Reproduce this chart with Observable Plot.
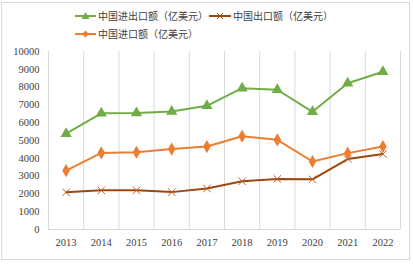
<!DOCTYPE html>
<html><head><meta charset="utf-8">
<script src="https://cdn.jsdelivr.net/npm/d3@7"></script>
<script src="https://cdn.jsdelivr.net/npm/@observablehq/plot@0.6"></script>
<style>
body{margin:0;background:#fff;}
#wrap{position:relative;width:413px;height:265px;overflow:hidden;}
#frame{position:absolute;left:1px;top:2px;width:409px;height:258px;border:1px solid #d9d9d9;box-sizing:border-box;pointer-events:none;}
#chart svg, #chart svg text{font-family:"Liberation Serif","DejaVu Serif",serif !important;font-size:10.5px;}
.leg{position:absolute;display:flex;align-items:center;font-family:"Noto Sans CJK SC",sans-serif;font-size:10px;color:#404040;white-space:nowrap;}
.leg svg{margin-right:2px;}
</style></head>
<body>
<div id="wrap"><div id="chart"></div><div id="frame"></div>
<div class="leg" style="left:75px;top:8px;"><svg width="21" height="14"><line x1="0" y1="7" x2="21" y2="7" stroke="#70AD47" stroke-width="2"/><path d="M10.5,3 L14.5,10 L6.5,10Z" fill="#70AD47"/></svg><span id="l0"></span></div>
<div class="leg" style="left:209px;top:8px;"><svg width="22" height="14"><line x1="0" y1="7" x2="22" y2="7" stroke="#9E480E" stroke-width="2"/><path d="M8,4 L14,10 M14,4 L8,10" stroke="#9E480E" stroke-width="1"/></svg><span id="l1"></span></div>
<div class="leg" style="left:75px;top:26px;"><svg width="21" height="14"><line x1="0" y1="7" x2="21" y2="7" stroke="#ED7D31" stroke-width="2"/><path d="M10.5,3.5 L14,7 L10.5,10.5 L7,7Z" fill="#ED7D31"/></svg><span id="l2"></span></div>
</div>
<script>
const years = [2013,2014,2015,2016,2017,2018,2019,2020,2021,2022];
const totalTrade = [5380,6530,6540,6630,6950,7940,7850,6610,8220,8860];
const exportVals = [2090,2200,2200,2100,2300,2710,2840,2820,3960,4240];
const importVals = [3310,4300,4340,4520,4660,5240,5040,3820,4290,4660];
const seriesNames = ["中国进出口额（亿美元）","中国出口额（亿美元）","中国进口额（亿美元）"];
const colors = ["#70AD47","#9E480E","#ED7D31"];
const yTicks = [0,1000,2000,3000,4000,5000,6000,7000,8000,9000,10000];

document.getElementById("l0").textContent = seriesNames[0];
document.getElementById("l1").textContent = seriesNames[1];
document.getElementById("l2").textContent = seriesNames[2];

const rows = [];
years.forEach((y,i)=>{
  rows.push({year:y, value:totalTrade[i], s:seriesNames[0]});
  rows.push({year:y, value:exportVals[i], s:seriesNames[1]});
  rows.push({year:y, value:importVals[i], s:seriesNames[2]});
});
const bounds = [years[0]-0.5, ...years.map(y=>y+0.5)];
const bySeries = k => rows.filter(r=>r.s===seriesNames[k]);

const chart = Plot.plot({
  width: 413, height: 265,
  marginLeft: 48, marginRight: 13, marginTop: 51, marginBottom: 36,
  style: {color: "#404040", background: "transparent"},
  x: {type: "linear", domain: [years[0]-0.5, years[years.length-1]+0.5], ticks: years, tickFormat: d=>String(d), tickSize: 0, tickPadding: 9, label: null},
  y: {domain: [0,10000], ticks: yTicks, tickFormat: d=>String(d), tickSize: 0, tickPadding: 9, label: null},
  marks: [
    Plot.ruleX(bounds, {stroke: "#d9d9d9", strokeWidth: 1, y1: 0, y2: 10000}),
    Plot.ruleY([0], {stroke: "#d9d9d9", strokeWidth: 1}),
    Plot.line(bySeries(0), {x:"year", y:"value", stroke: colors[0], strokeWidth: 2}),
    Plot.line(bySeries(1), {x:"year", y:"value", stroke: colors[1], strokeWidth: 2}),
    Plot.line(bySeries(2), {x:"year", y:"value", stroke: colors[2], strokeWidth: 2}),
    Plot.dot(bySeries(0), {x:"year", y:"value", symbol:"triangle", r:4.2, fill: colors[0]}),
    Plot.dot(bySeries(1), {x:"year", y:"value", symbol:"times", r:3.5, stroke: "#C0602A", strokeWidth: 1}),
    Plot.dot(bySeries(2), {x:"year", y:"value", symbol:"diamond", r:4, fill: colors[2]})
  ]
});
document.getElementById("chart").appendChild(chart);
</script>
</body></html>
